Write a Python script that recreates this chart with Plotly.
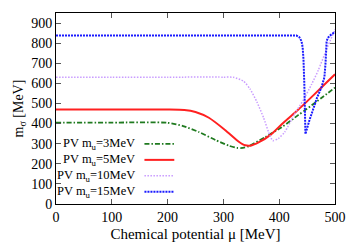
import plotly.graph_objects as go

# ---- data ----
mu_green = [0, 100, 200, 226.5, 256, 286, 309.6, 324, 335, 345, 375, 404.5, 434, 449, 475.6, 500]
m_green = [405, 405, 404, 389, 358, 318, 290, 279, 279, 287, 333, 382, 442, 472, 527, 579]

mu_red = [0, 100, 200, 230, 250, 274, 304, 327, 339, 350, 363, 385, 404.5, 434, 449, 475.6, 500]
m_red = [470, 470, 470, 468, 458, 429, 366, 311, 292, 291, 306, 345, 397, 469, 508, 579, 645]

mu_violet = [0, 100, 200, 300, 318, 336, 348, 360, 372, 381, 388.5, 398.6, 410, 427, 443, 458, 470, 485, 500]
m_violet = [631, 631, 631, 631, 630, 611, 571, 508, 429, 358, 315, 326, 358, 445, 516, 595, 665, 770, 868]

mu_blue = [0, 100, 200, 300, 400, 431, 436, 440, 442, 443.5, 445, 446, 447, 454, 461, 468, 475.6, 481, 483, 485, 487, 490, 500]
m_blue = [838, 838, 838, 838, 838, 838, 830, 810, 780, 720, 600, 480, 348, 415, 476, 530, 579, 630, 700, 810, 825, 836, 856]

labels = ["PV m<sub>u</sub>=3MeV", "PV m<sub>u</sub>=5MeV", "PV m<sub>u</sub>=10MeV", "PV m<sub>u</sub>=15MeV"]
x_ticks = [0, 100, 200, 300, 400, 500]
y_ticks = [0, 100, 200, 300, 400, 500, 600, 700, 800, 900]

series = [
    (mu_green, m_green, "#1f7a1f", "5px,2px,1.5px,2px", 1.8, "spline"),
    (mu_red, m_red, "#ff2020", "solid", 2.0, "spline"),
    (mu_violet, m_violet, "#c99cff", "1.5px,1.5px", 1.5, "spline"),
    (mu_blue, m_blue, "#1a1aff", "2px,1px", 2.0, "linear"),
]

font = "Liberation Serif"
fig = go.Figure()
for (x, y, c, d, w, sh), lab in zip(series, labels):
    fig.add_trace(go.Scatter(x=x, y=y, mode="lines", name=lab,
                             line=dict(color=c, dash=d, width=w, shape=sh,
                                       smoothing=0.6 if sh == "spline" else None),
                             showlegend=False))

# gnuplot-style legend (text right-aligned, sample on the right)
rows_y = [0.315, 0.231, 0.148, 0.064]
for (x, y, c, d, w, sh), lab, ry in zip(series, labels, rows_y):
    fig.add_annotation(x=0.292, y=ry, xref="paper", yref="paper", text=lab,
                       showarrow=False, xanchor="right", yanchor="middle",
                       font=dict(family=font, size=12.5, color="black"))
    fig.add_shape(type="line", xref="paper", yref="paper", x0=0.317, x1=0.424,
                  y0=ry, y1=ry, line=dict(color=c, dash=d, width=w))

axis_common = dict(showline=True, linecolor="black", linewidth=1, mirror="allticks",
                   ticks="inside", ticklen=5, tickcolor="#555", showgrid=False,
                   zeroline=False, tickfont=dict(family=font, size=14, color="black"))

fig.update_layout(
    width=358, height=251,
    margin=dict(l=56, r=21, t=13, b=38),
    paper_bgcolor="white", plot_bgcolor="white",
    xaxis=dict(range=[0, 500], tickvals=x_ticks,
               title=dict(text="Chemical potential \u03bc [MeV]", standoff=4,
                          font=dict(family=font, size=15, color="black")),
               **axis_common),
    yaxis=dict(range=[0, 950], tickvals=y_ticks,
               title=dict(text="m<sub>\u03c3</sub> [MeV]", standoff=4,
                          font=dict(family=font, size=14, color="black")),
               **axis_common),
)

fig.write_html("out.html", config={"displayModeBar": False},
               post_script="document.body.style.margin='0';document.body.style.padding='0';document.body.style.overflow='hidden';")
